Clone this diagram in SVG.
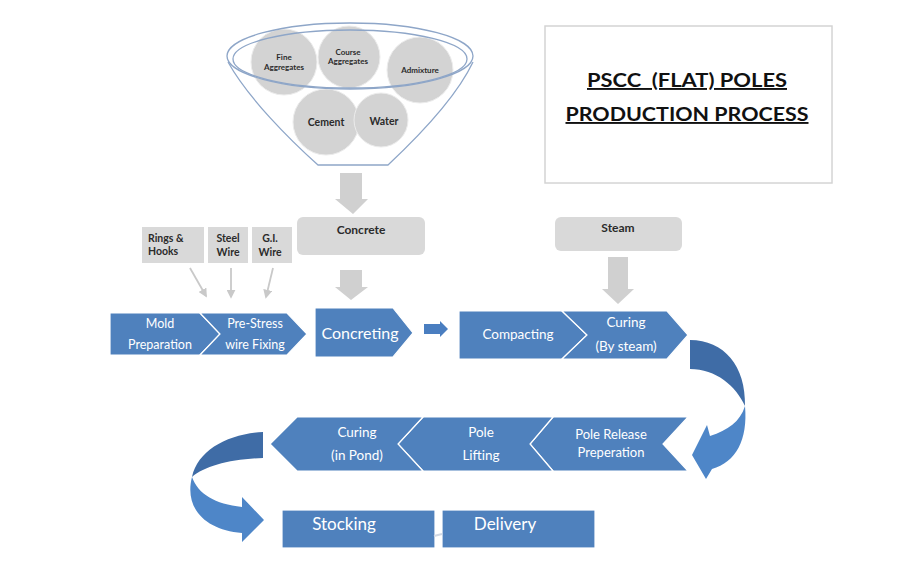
<svg xmlns="http://www.w3.org/2000/svg" width="911" height="573" viewBox="0 0 911 573">
<defs>
<style>
.blue{fill:#4f81bd;stroke:#ffffff;stroke-width:1.2}
.gbox{fill:#d9d9d9}
.gcirc{fill:#d3d3d3;stroke:#ececec;stroke-width:1}
.garrow{fill:#d0d0d0}
.wt{font-family:Lato,"Liberation Sans",sans-serif;fill:#ffffff;text-anchor:middle}
.dt{font-family:Lato,"Liberation Sans",sans-serif;fill:#2b2b2b;font-weight:bold}
.thin{stroke:#c9c9c9;stroke-width:1.8;fill:none;marker-end:url(#ah)}
</style>
<marker id="ah" viewBox="0 0 10 10" refX="8" refY="5" markerWidth="5" markerHeight="5" orient="auto">
<path d="M0,0 L10,5 L0,10 Z" fill="#c9c9c9"/>
</marker>
</defs>
<rect width="911" height="573" fill="#ffffff"/>

<g id="title">
<rect x="545" y="26" width="287" height="157" fill="#ffffff" stroke="#d4d4d4" stroke-width="1.5"/>
<text x="687" y="87" text-anchor="middle" font-family="Lato,'Liberation Sans',sans-serif" font-weight="bold" font-size="19" fill="#111" text-decoration="underline" textLength="200" lengthAdjust="spacingAndGlyphs" xml:space="preserve">PSCC  (FLAT) POLES</text>
<text x="687" y="121" text-anchor="middle" font-family="Lato,'Liberation Sans',sans-serif" font-weight="bold" font-size="19" fill="#111" text-decoration="underline" textLength="243" lengthAdjust="spacingAndGlyphs">PRODUCTION PROCESS</text>
</g>

<g id="funnel">
<circle class="gcirc" cx="284" cy="62" r="33"/>
<circle class="gcirc" cx="349" cy="57" r="31"/>
<circle class="gcirc" cx="420" cy="70" r="33"/>
<circle class="gcirc" cx="326" cy="122" r="33"/>
<circle class="gcirc" cx="381" cy="120" r="27" stroke="#c4cfe0"/>
<ellipse cx="350" cy="56" rx="123" ry="33" fill="none" stroke="#8ea6c8" stroke-width="1.3"/>
<ellipse cx="350" cy="59" rx="117" ry="29" fill="none" stroke="#8ea6c8" stroke-width="1.3"/>
<path d="M228,62 C248,98 290,140 318,165 L388,165 C420,135 456,98 473,62" fill="none" stroke="#8ea6c8" stroke-width="1.3"/>
<text class="dt" text-anchor="middle" font-size="8"><tspan x="284" y="60">Fine</tspan><tspan x="284" y="70">Aggregates</tspan></text>
<text class="dt" text-anchor="middle" font-size="8"><tspan x="348" y="55">Course</tspan><tspan x="348" y="64">Aggregates</tspan></text>
<text class="dt" text-anchor="middle" font-size="8" x="420" y="73">Admixture</text>
<text class="dt" text-anchor="middle" font-size="10.5" x="326" y="126">Cement</text>
<text class="dt" text-anchor="middle" font-size="10.5" x="384" y="125">Water</text>
</g>

<g id="concrete">
<rect class="gbox" x="297" y="217" width="128" height="38" rx="6"/>
<text class="dt" text-anchor="middle" font-size="12" x="361" y="234">Concrete</text>
</g>
<g id="steam">
<rect class="gbox" x="555" y="217" width="127" height="34" rx="6"/>
<text class="dt" text-anchor="middle" font-size="12" x="618" y="232">Steam</text>
</g>
<g id="rings">
<rect class="gbox" x="142" y="227" width="62" height="36"/>
<text class="dt" text-anchor="start" font-size="10.5"><tspan x="148" y="242">Rings &amp;</tspan><tspan x="148" y="255">Hooks</tspan></text>
</g>
<g id="steel">
<rect class="gbox" x="208" y="227" width="40" height="36"/>
<text class="dt" text-anchor="middle" font-size="10.5"><tspan x="228" y="242">Steel</tspan><tspan x="228" y="256">Wire</tspan></text>
</g>
<g id="giwire">
<rect class="gbox" x="252" y="227" width="40" height="36"/>
<text class="dt" text-anchor="middle" font-size="10.5"><tspan x="270" y="242">G.I.</tspan><tspan x="270" y="256">Wire</tspan></text>
</g>

<g id="mold">
<path class="blue" d="M110,313 L200,313 L220,334 L200,355 L110,355 Z"/>
<text class="wt" font-size="12.5"><tspan x="160" y="328">Mold</tspan><tspan x="160" y="349">Preparation</tspan></text>
</g>
<g id="prestress">
<path class="blue" d="M200,313 L287,313 L307,334 L287,355 L200,355 L220,334 Z"/>
<text class="wt" font-size="12.5"><tspan x="255" y="328">Pre-Stress</tspan><tspan x="255" y="349">wire Fixing</tspan></text>
</g>
<g id="concreting">
<path class="blue" d="M315,308 L393,308 L413,333 L393,357 L315,357 Z"/>
<text class="wt" font-size="16" x="360" y="339">Concreting</text>
</g>
<g id="compacting">
<path class="blue" d="M459,311 L562,311 L587,335 L562,359 L459,359 Z"/>
<text class="wt" font-size="13.5" x="518" y="339">Compacting</text>
</g>
<g id="curing-steam">
<path class="blue" d="M562,311 L667,311 L688,335 L667,359 L562,359 L587,335 Z"/>
<text class="wt" font-size="13.5"><tspan x="626" y="327">Curing</tspan><tspan x="626" y="351">(By steam)</tspan></text>
</g>
<g id="pole-release">
<path class="blue" d="M530,444 L553,417 L688,417 L663,444 L688,471 L553,471 Z"/>
<text class="wt" font-size="13"><tspan x="611" y="439">Pole Release</tspan><tspan x="611" y="457">Preperation</tspan></text>
</g>
<g id="pole-lifting">
<path class="blue" d="M398,444 L423,417 L553,417 L530,444 L553,471 L423,471 Z"/>
<text class="wt" font-size="13.5"><tspan x="481" y="437">Pole</tspan><tspan x="481" y="460">Lifting</tspan></text>
</g>
<g id="curing-pond">
<path class="blue" d="M270,444 L297,417 L423,417 L398,444 L423,471 L297,471 Z"/>
<text class="wt" font-size="13.5"><tspan x="357" y="437">Curing</tspan><tspan x="357" y="460">(in Pond)</tspan></text>
</g>
<g id="stocking">
<rect class="blue" x="282" y="510" width="153" height="38"/>
<text class="wt" font-size="17" x="344" y="530">Stocking</text>
</g>
<g id="delivery">
<rect class="blue" x="442" y="510" width="153" height="38"/>
<text class="wt" font-size="17" x="505" y="530">Delivery</text>
</g>

<g id="connectors">
<path class="garrow" d="M340,173 L362,173 L362,199 L368,199 L353,214 L335,199 L340,199 Z"/>
<path class="garrow" d="M340,270 L362,270 L362,287 L368,287 L351,300 L335,287 L340,287 Z"/>
<path class="garrow" d="M608,257 L628,257 L628,289 L634,289 L618,304 L602,289 L608,289 Z"/>
<path class="thin" d="M190,268 L206,296"/>
<path class="thin" d="M231,268 L231,297"/>
<path class="thin" d="M273,268 L266,297"/>
<path d="M424,324 L440,324 L440,321 L448,329 L440,337 L440,334 L424,334 Z" fill="#4a7ec0"/>
<path d="M690,340 C724,340 746,366 745,406 C736,386 716,369 690,369 Z" fill="#3f6ca6"/>
<path d="M745,406 C748,440 736,462 712,469 L706,479 L692,455 L707,425 L710,436 C728,430 740,422 745,406 Z" fill="#4e86c8"/>
<path d="M263,432 C228,434 198,450 192,477 C205,466 230,459 263,458 Z" fill="#3f6ca6"/>
<path d="M192,477 C184,508 205,530 242,533 L242,542 L264,520 L242,497 L242,507 C215,504 198,494 192,477 Z" fill="#4e86c8"/>
<path d="M434,536 L442,534" stroke="#d0d8e4" stroke-width="2"/>
</g>
</svg>
